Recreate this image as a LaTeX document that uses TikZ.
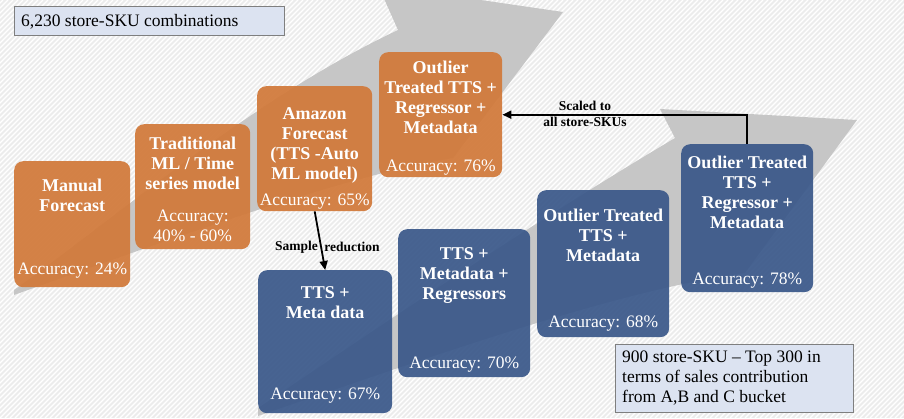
\documentclass[tikz,border=0pt]{standalone}
\usepackage{fontspec}
\setmainfont{Liberation Serif}
\usetikzlibrary{arrows.meta}
\definecolor{bgc}{HTML}{ECECEC}
\definecolor{orangebox}{HTML}{D17838}
\definecolor{bluebox}{HTML}{395789}
\definecolor{arrowgrey}{HTML}{C6C6C6}
\definecolor{notefill}{HTML}{DCE3F1}
\definecolor{noteline}{HTML}{7F7F7F}
\tikzset{
 card/.style={rounded corners=9pt, draw=none, fill opacity=0.92, inner sep=0pt, anchor=north west},
 obox/.style={card, fill=orangebox},
 bbox/.style={card, fill=bluebox},
 ttl/.style={text=white, font=\fontsize{18}{20}\selectfont\bfseries, align=center, inner sep=0pt, anchor=north},
 acc/.style={text=white, font=\fontsize{17.5}{20}\selectfont, align=center, inner sep=0pt, anchor=base},
 notebox/.style={draw=noteline, fill=notefill, line width=1pt, inner sep=0pt, anchor=north west},
 notetext/.style={font=\fontsize{17.5}{20}\selectfont, align=left, inner sep=0pt},
 conn/.style={line width=1.8pt, -{Triangle[length=9pt,width=8pt]}},
 clabel/.style={font=\fontsize{13.5}{16}\selectfont\bfseries, inner sep=0pt, align=center}
}
\begin{document}
\begin{tikzpicture}[x=1pt,y=-1pt]
\useasboundingbox (0,0) rectangle (904,418);
\begin{scope}
\clip (0,0) rectangle (904,418);
\fill[bgc] (0,0) rectangle (904,418);
\foreach \i in {-420,-415,...,904} \draw[white, line width=1.2pt] (\i,418) -- (\i+418,0);
% upper grey arrow
\fill[arrowgrey] (14,290) .. controls (120,215) and (250,100) .. (398,30)
  -- (378,-15) -- (563,12) -- (453,158)
  .. controls (350,175) and (200,228) .. (14,295) -- cycle;
% lower grey arrow
\fill[arrowgrey] (258,408) .. controls (360,340) and (520,230) .. (675,138)
  -- (660,109) -- (857,120) -- (745,273)
  .. controls (620,290) and (450,350) .. (258,416) -- cycle;
\end{scope}

% header boxes
\node[notebox, minimum width=270pt, minimum height=29pt] (hdr) at (14,6) {};
\node[notetext, anchor=base west] (hdrT) at (21,26) {6,230 store-SKU combinations};
\node[notebox, minimum width=238pt, minimum height=68pt] (note) at (615,344) {};
\node[notetext, anchor=north west] (noteT) at (622,351) {900 store-SKU -- Top 300 in\\terms of sales contribution\\from A,B and C bucket};

% orange boxes
\node[obox, minimum width=116pt, minimum height=126pt] (man) at (14,161) {};
\node[ttl] (manT) at (man.north |- 0,179) {Manual\\Forecast};
\node[acc] (manA) at (man.north |- 0,274) {Accuracy: 24\%};

\node[obox, minimum width=115pt, minimum height=125pt] (trad) at (135,124) {};
\node[ttl] (tradT) at (trad.north |- 0,137) {Traditional\\ML / Time\\series model};
\node[acc, anchor=north] (tradA) at (trad.north |- 0,210) {Accuracy:\\40\% - 60\%};

\node[obox, minimum width=115pt, minimum height=125pt] (amz) at (257,86) {};
\node[ttl] (amzT) at (amz.north |- 0,107) {Amazon\\Forecast\\(TTS -Auto\\ML model)};
\node[acc] (amzA) at (amz.north |- 0,205) {Accuracy: 65\%};

\node[obox, minimum width=123pt, minimum height=125pt] (otl) at (379,52) {};
\node[ttl] (otlT) at (otl.north |- 0,61) {Outlier\\Treated TTS +\\Regressor +\\Metadata};
\node[acc] (otlA) at (otl.north |- 0,171) {Accuracy: 76\%};

% blue boxes
\node[bbox, minimum width=134pt, minimum height=143pt] (b1) at (258,270) {};
\node[ttl] (b1T) at (b1.north |- 0,286) {TTS +\\Meta data};
\node[acc] (b1A) at (b1.north |- 0,399) {Accuracy: 67\%};

\node[bbox, minimum width=132pt, minimum height=148pt] (b2) at (398,229) {};
\node[ttl] (b2T) at (b2.north |- 0,247) {TTS +\\Metadata +\\Regressors};
\node[acc] (b2A) at (b2.north |- 0,368) {Accuracy: 70\%};

\node[bbox, minimum width=132pt, minimum height=147pt] (b3) at (537,190) {};
\node[ttl] (b3T) at (b3.north |- 0,209) {Outlier Treated\\TTS +\\Metadata};
\node[acc] (b3A) at (b3.north |- 0,327) {Accuracy: 68\%};

\node[bbox, minimum width=132pt, minimum height=148pt] (b4) at (681,144) {};
\node[ttl] (b4T) at (b4.north |- 0,156) {Outlier Treated\\TTS +\\Regressor +\\Metadata};
\node[acc] (b4A) at (b4.north |- 0,284) {Accuracy: 78\%};

% connectors
\draw[conn] (amz.south) -- coordinate[pos=0.61] (sr) (b1.north);
\node[clabel, anchor=east] (srL) at ([xshift=-3pt]sr) {Sample};
\node[clabel, anchor=west] (srR) at ([xshift=3pt]sr) {reduction};
\draw[conn] (b4.north) |- (otl.east);
\node[clabel] (scl) at (585,114) {Scaled to\\all store-SKUs};
\end{tikzpicture}
\end{document}
